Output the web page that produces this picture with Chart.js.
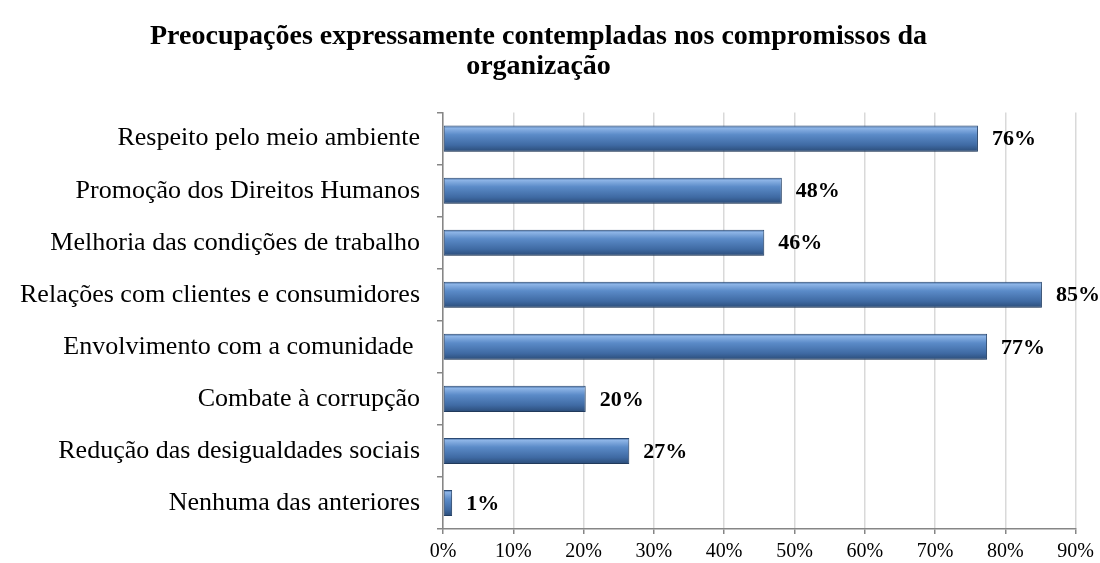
<!DOCTYPE html>
<html>
<head>
<meta charset="utf-8">
<script src="https://cdn.jsdelivr.net/npm/chart.js@4"></script>
<style>
  html, body { margin: 0; padding: 0; background: #fff; }
  #wrap { width: 1100px; height: 563px; }
</style>
</head>
<body>
<div id="wrap"><canvas id="grafico" width="1100" height="563"></canvas></div>
<script>
const categorias = [
  "Respeito pelo meio ambiente",
  "Promoção dos Direitos Humanos",
  "Melhoria das condições de trabalho",
  "Relações com clientes e consumidores",
  "Envolvimento com a comunidade ",
  "Combate à corrupção",
  "Redução das desigualdades sociais",
  "Nenhuma das anteriores"
];
const valores = [76.1, 48.2, 45.7, 85.2, 77.4, 20.3, 26.5, 1.3];
const rotulos = ["76%", "48%", "46%", "85%", "77%", "20%", "27%", "1%"];
const ticksX = [0, 10, 20, 30, 40, 50, 60, 70, 80, 90];

const fonte = "'Liberation Serif', 'Times New Roman', serif";

// gradiente "biselado" calculado a partir da posição da barra na escala
function corBarra(c) {
  const y = c.chart.scales.y;
  if (!y || y.ticks.length === 0) return "#4f81bd";
  const centro = y.getPixelForValue(c.dataIndex);
  const passo = Math.abs(y.getPixelForValue(1) - y.getPixelForValue(0)) || 52;
  const alt = passo * 0.5;
  const top = centro - alt / 2;
  const g = c.chart.ctx.createLinearGradient(0, top, 0, top + alt);
  g.addColorStop(0, "#3d679c");
  g.addColorStop(0.1, "#8db4e6");
  g.addColorStop(0.35, "#5b8bc8");
  g.addColorStop(0.75, "#3f6aa3");
  g.addColorStop(1, "#2b4c78");
  return g;
}

const rotulosPlugin = {
  id: "rotulos",
  beforeDatasetsDraw(chart) {
    const ctx = chart.ctx;
    ctx.save();
    ctx.shadowColor = "rgba(0,0,0,0.25)";
    ctx.shadowOffsetY = 3;
    ctx.shadowBlur = 4;
  },
  afterDatasetsDraw(chart) {
    const ctx = chart.ctx;
    ctx.restore();
    ctx.save();
    ctx.font = "bold 22px " + fonte;
    ctx.fillStyle = "#000";
    ctx.textAlign = "left";
    ctx.textBaseline = "middle";
    chart.getDatasetMeta(0).data.forEach((bar, i) => {
      ctx.fillText(rotulos[i], bar.x + 14, bar.y + 1);
    });
    ctx.restore();
  }
};

new Chart(document.getElementById("grafico"), {
  type: "bar",
  data: {
    labels: categorias,
    datasets: [{
      data: valores,
      backgroundColor: corBarra,
      borderColor: "#2a4a74",
      borderWidth: 1,
      borderSkipped: false,
      categoryPercentage: 0.5,
      barPercentage: 1
    }]
  },
  options: {
    indexAxis: "y",
    responsive: false,
    animation: false,
    layout: { padding: { left: 0, right: 23, top: 0, bottom: 0 } },
    plugins: {
      legend: { display: false },
      tooltip: { enabled: false },
      title: {
        display: true,
        text: ["Preocupações expressamente contempladas nos compromissos da", "organização"],
        color: "#000",
        font: { family: fonte, size: 28, weight: "bold", lineHeight: 1.1 },
        padding: { top: 21, bottom: 30 }
      }
    },
    scales: {
      x: {
        min: 0,
        max: 90,
        afterBuildTicks: (s) => { s.ticks = ticksX.map((v) => ({ value: v })); },
        afterFit: (s) => { s.height = 34; },
        border: { color: "#868686", width: 1.5 },
        grid: { color: "#d9d9d9", lineWidth: 1.5, tickLength: 5, tickColor: "#868686" },
        ticks: {
          color: "#000",
          padding: 6,
          font: { family: fonte, size: 20 },
          callback: (v) => v + "%"
        }
      },
      y: {
        afterFit: (s) => { s.width = 443; },
        border: { color: "#868686", width: 1.5 },
        grid: { offset: true, drawOnChartArea: false, tickLength: 6, tickColor: "#868686", lineWidth: 1.5 },
        ticks: {
          color: "#000",
          padding: 17,
          font: { family: fonte, size: 26 }
        }
      }
    }
  },
  plugins: [rotulosPlugin]
});
</script>
</body>
</html>
